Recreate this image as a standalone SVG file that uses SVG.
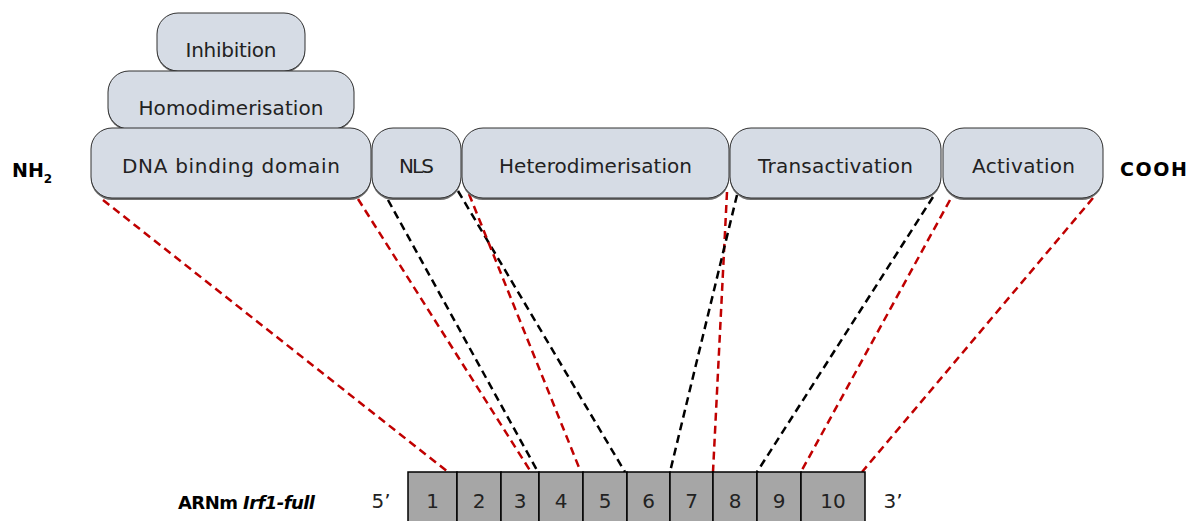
<svg xmlns="http://www.w3.org/2000/svg" width="1194" height="521" viewBox="0 0 1194 521">
<style>
.dom{fill:#d6dce5;stroke:#303030;stroke-width:1}
.sh{fill:#707070}
.lbl{font-family:"DejaVu Sans",sans-serif;font-size:20px;fill:#222;text-anchor:middle}
.ex{fill:#a6a6a6;stroke:#000;stroke-width:1.5}
.num{font-family:"DejaVu Sans",sans-serif;font-size:20px;fill:#222;text-anchor:middle}
.bold{font-family:"DejaVu Sans",sans-serif;font-weight:bold;fill:#000}
.r{stroke:#c00000;stroke-width:2.5;stroke-dasharray:8 5;fill:none}
.k{stroke:#000;stroke-width:2.5;stroke-dasharray:8 5;fill:none}
</style>
<rect width="1194" height="521" fill="#fff"/>
<g id="connectors">
<line class="r" x1="103" y1="200" x2="448" y2="472"/>
<line class="r" x1="358" y1="199" x2="531" y2="472"/>
<line class="k" x1="388" y1="200" x2="538" y2="472"/>
<line class="k" x1="458" y1="191" x2="625" y2="472"/>
<line class="r" x1="469" y1="194" x2="580" y2="470"/>
<line class="r" x1="727" y1="192" x2="713" y2="472"/>
<line class="k" x1="737" y1="195" x2="670" y2="472"/>
<line class="k" x1="933" y1="197" x2="757" y2="472"/>
<line class="r" x1="950" y1="200" x2="802" y2="470"/>
<line class="r" x1="1093" y1="198" x2="862" y2="472"/>
</g>
<g id="inhibition">
<rect class="sh" x="157" y="14.5" width="148" height="58" rx="21"/>
<rect class="dom" x="157" y="13" width="148" height="58" rx="21"/>
<text class="lbl" x="231" y="57" textLength="91">Inhibition</text>
</g>
<g id="homodimerisation">
<rect class="sh" x="108" y="72.5" width="246" height="58" rx="21"/>
<rect class="dom" x="108" y="71" width="246" height="58" rx="21"/>
<text class="lbl" x="231" y="115" textLength="185">Homodimerisation</text>
</g>
<g id="dna">
<rect class="sh" x="91" y="130" width="280" height="70" rx="21"/>
<rect class="dom" x="91" y="128" width="280" height="70" rx="21"/>
<text class="lbl" x="231" y="173" textLength="218">DNA binding domain</text>
</g>
<g id="nls">
<rect class="sh" x="372" y="130" width="89" height="70" rx="21"/>
<rect class="dom" x="372" y="128" width="89" height="70" rx="21"/>
<text class="lbl" x="416.5" y="173" textLength="35">NLS</text>
</g>
<g id="heterodimerisation">
<rect class="sh" x="462" y="130" width="267" height="70" rx="21"/>
<rect class="dom" x="462" y="128" width="267" height="70" rx="21"/>
<text class="lbl" x="595.5" y="173" textLength="193">Heterodimerisation</text>
</g>
<g id="transactivation">
<rect class="sh" x="730" y="130" width="211" height="70" rx="21"/>
<rect class="dom" x="730" y="128" width="211" height="70" rx="21"/>
<text class="lbl" x="835.5" y="173" textLength="155">Transactivation</text>
</g>
<g id="activation">
<rect class="sh" x="943" y="130" width="160" height="70" rx="21"/>
<rect class="dom" x="943" y="128" width="160" height="70" rx="21"/>
<text class="lbl" x="1023.5" y="173" textLength="103">Activation</text>
</g>
<g id="nh2">
<text class="bold" x="12" y="177" font-size="19">NH<tspan font-size="12" dy="6">2</tspan></text>
</g>
<g id="cooh">
<text class="bold" x="1120" y="176" font-size="19" textLength="67">COOH</text>
</g>
<g id="mrna-label">
<text class="bold" x="178" y="509" font-size="18" textLength="137">ARNm <tspan font-style="italic">Irf1-full</tspan></text>
</g>
<g id="ends">
<text class="num" x="381" y="508">5’</text>
<text class="num" x="893" y="508">3’</text>
</g>
<g id="exons">
<rect class="ex" x="408" y="472" width="49" height="60"/>
<rect class="ex" x="457" y="472" width="44" height="60"/>
<rect class="ex" x="501" y="472" width="38" height="60"/>
<rect class="ex" x="539" y="472" width="44" height="60"/>
<rect class="ex" x="583" y="472" width="44" height="60"/>
<rect class="ex" x="627" y="472" width="43" height="60"/>
<rect class="ex" x="670" y="472" width="43" height="60"/>
<rect class="ex" x="713" y="472" width="44" height="60"/>
<rect class="ex" x="757" y="472" width="44" height="60"/>
<rect class="ex" x="801" y="472" width="64" height="60"/>
<text class="num" x="432.5" y="508">1</text>
<text class="num" x="479" y="508">2</text>
<text class="num" x="520" y="508">3</text>
<text class="num" x="561" y="508">4</text>
<text class="num" x="605" y="508">5</text>
<text class="num" x="648.5" y="508">6</text>
<text class="num" x="691.5" y="508">7</text>
<text class="num" x="735" y="508">8</text>
<text class="num" x="779" y="508">9</text>
<text class="num" x="833" y="508">10</text>
</g>
</svg>
